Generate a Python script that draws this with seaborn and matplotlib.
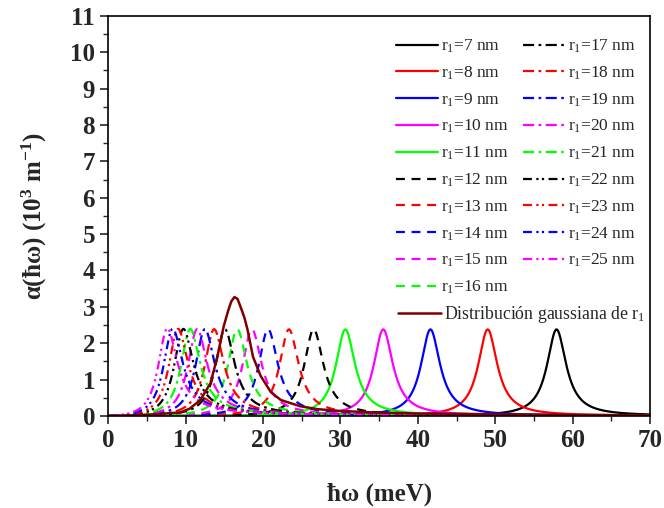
import numpy as np
import pandas as pd
import seaborn as sns
import matplotlib
matplotlib.use('Agg')
import matplotlib.pyplot as plt
from matplotlib.ticker import MultipleLocator

# radio r1 (nm) y posicion del pico (meV)
radios = [7, 8, 9, 10, 11, 12, 13, 14, 15, 16, 17, 18, 19, 20, 21, 22, 23, 24, 25]
picos = [57.9, 49.0, 41.6, 35.5, 30.6, 26.5, 23.3, 20.6, 18.5, 16.6,
         15.0, 13.6, 12.4, 11.4, 10.5, 9.6, 8.9, 8.2, 7.5]
altura = 2.38      # altura de cada pico (10^3 m^-1)
ancho = 1.5        # semi-ancho (meV)

colores = ['black', 'red', 'blue', '#FF00FF', '#00FF00'] * 4
estilos = ['-'] * 5 + ['d'] * 5 + ['dd'] * 5 + ['ddd'] * 4

# curva de la distribucion gaussiana (leida punto a punto)
gauss_E = [0, 3, 6, 8, 9.3, 10.5, 11.9, 13.2, 14.1, 14.9, 15.5, 15.9, 16.3, 16.7,
           17.1, 17.6, 18.0, 18.7, 19.7, 21.0, 22.3, 24.8, 27, 30, 34.3, 40, 50, 60, 70]
gauss_a = [0.0, 0.02, 0.05, 0.08, 0.1, 0.2, 0.44, 0.9, 1.63, 2.45, 2.9, 3.15, 3.27, 3.22,
           3.0, 2.7, 2.37, 1.63, 1.1, 0.66, 0.44, 0.27, 0.19, 0.14, 0.1, 0.07, 0.05, 0.03, 0.02]

sns.set_theme(style='ticks')
plt.rcParams['font.family'] = ['Liberation Serif', 'DejaVu Serif']
plt.rcParams['mathtext.default'] = 'regular'

dashes = {'-': None, 'd': (4, 3), 'dd': (5, 2, 1.2, 2), 'ddd': (4, 2, 1, 1.5, 1, 2)}

fig = plt.figure(figsize=(6.64, 5.08), dpi=100)
ax = fig.add_axes([0.163, 0.181, 0.816, 0.788])

w = np.linspace(0.001, 70, 1401)
handles = []
for r, E0, c, s in zip(radios, picos, colores, estilos):
    a = altura * (w / E0) * ancho**2 / ((w - E0)**2 + ancho**2)
    sns.lineplot(x=w, y=a, color=c, lw=1.6, ax=ax, label='r$_1$=%d nm' % r)
    ln = ax.lines[-1]
    if dashes[s] is not None:
        ln.set_dashes(dashes[s])
    handles.append(ln)

df = pd.DataFrame({'E': gauss_E, 'a': gauss_a})
sns.lineplot(data=df, x='E', y='a', color='#800000', lw=1.8, ax=ax,
             label='Distribución gaussiana de r$_1$')
gl = ax.lines[-1]

ax.set_xlim(0, 70)
ax.set_ylim(0, 11)
ax.xaxis.set_major_locator(MultipleLocator(10))
ax.xaxis.set_minor_locator(MultipleLocator(5))
ax.yaxis.set_major_locator(MultipleLocator(1))
ax.yaxis.set_minor_locator(MultipleLocator(0.5))
ax.tick_params(which='major', direction='out', length=6, width=1.2, labelsize=18)
ax.tick_params(which='minor', direction='out', length=3.5, width=1.0)
for t in ax.get_xticklabels() + ax.get_yticklabels():
    t.set_fontweight('bold')
for sp in ax.spines.values():
    sp.set_linewidth(1.2)
    sp.set_color('black')

ax.set_xlabel('ħω (meV)', fontsize=18, fontweight='bold', labelpad=22)
ax.set_ylabel('α(ħω) (10$^3$ m$^{-1}$)', fontsize=18, fontweight='bold', labelpad=15)

leg1 = ax.legend(handles=handles, ncol=2, loc='upper right', frameon=False,
                 fontsize=12.5, handlelength=2.4, handletextpad=0.2, columnspacing=0.8,
                 labelspacing=0.54, bbox_to_anchor=(0.974, 0.945), borderaxespad=0.0,
                 borderpad=0.0)
ax.add_artist(leg1)
ax.legend(handles=[gl], loc='upper left', frameon=False, fontsize=12.8,
          handlelength=2.4, handletextpad=0.2, bbox_to_anchor=(0.535, 0.28),
          borderaxespad=0.0, borderpad=0.0)

fig.savefig('out.png', dpi=100)
